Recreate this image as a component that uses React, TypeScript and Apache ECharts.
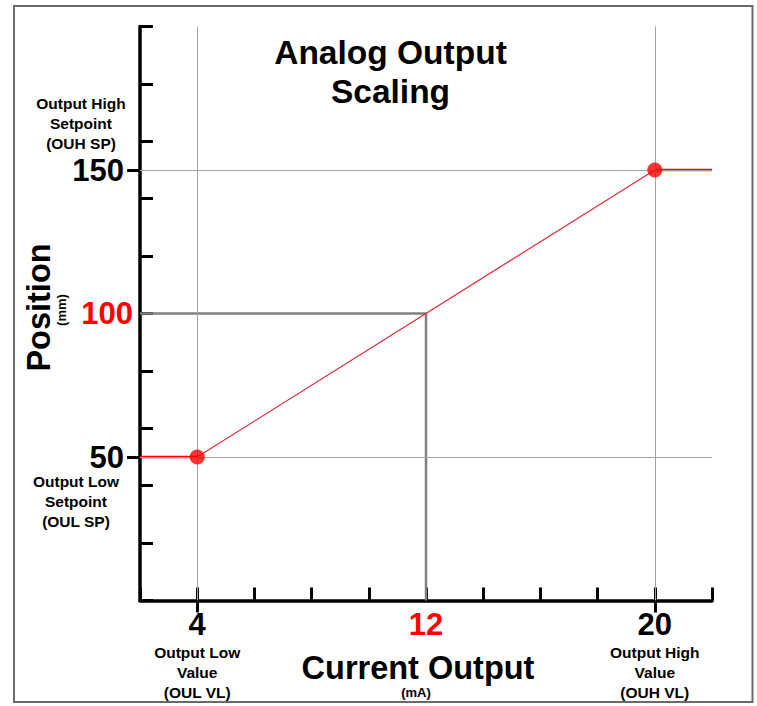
import React, { useEffect, useRef } from "react";
import * as echarts from "echarts";

// ---- data ----
const xRange = [2, 22]; // current output, mA
const yRange = [0, 200]; // position, mm
const xTickStep = 2;
const yTickStep = 20;
const xLabelValues = [4, 12, 20];
const yLabelValues = [50, 100, 150];
const setpointMA = [4, 20];
const setpointMM = [50, 150];
const sampleMA = 12;
const sampleMM = 100;
const xNotes = ["Output Low\nValue\n(OUL VL)", "Output High\nValue\n(OUH VL)"];
const yNotes = ["Output Low\nSetpoint\n(OUL SP)", "Output High\nSetpoint\n(OUH SP)"];
const titleText = "Analog Output\nScaling";
const xName = "Current Output";
const xUnit = "(mA)";
const yName = "Position";
const yUnit = "(mm)";

const FF = "'Liberation Sans', Arial, Helvetica, sans-serif";
const NOTE_SIZE = 15.5;

export default function App() {
  const ref = useRef<HTMLDivElement>(null);

  useEffect(() => {
    if (!ref.current) return;
    const chart = echarts.init(ref.current, null, { renderer: "svg" });

    const lowFlat = [
      [xRange[0], setpointMM[0]],
      [setpointMA[0], setpointMM[0]],
    ];
    const slope = [
      [setpointMA[0], setpointMM[0]],
      [setpointMA[1], setpointMM[1]],
    ];
    const highFlat = [
      [setpointMA[1], setpointMM[1]],
      [xRange[1], setpointMM[1]],
    ];
    const drop = [
      [xRange[0], sampleMM],
      [sampleMA, sampleMM],
      [sampleMA, yRange[0]],
    ];
    const dots = setpointMA.map((x, i) => [x, setpointMM[i]]);

    const bigRich = {
      blk: { color: "#000", fontSize: 31, fontWeight: "bold", fontFamily: FF },
      red: { color: "#ff0000", fontSize: 31, fontWeight: "bold", fontFamily: FF },
    };

    const baseX = {
      type: "value",
      min: xRange[0],
      max: xRange[1],
      interval: xTickStep,
      position: "bottom",
      splitLine: { show: false },
    };
    const baseY = {
      type: "value",
      min: yRange[0],
      max: yRange[1],
      interval: yTickStep,
      position: "left",
      splitLine: { show: false },
    };

    const option: any = {
      animation: false,
      grid: {
        left: 140,
        right: 45,
        top: 26.5,
        bottom: 105.5,
        containLabel: false,
        outerBoundsMode: "none",
      },
      xAxis: [
        {
          ...baseX,
          axisLine: { show: true, lineStyle: { color: "#000", width: 3.5 } },
          axisTick: { show: true, inside: true, length: 13, lineStyle: { color: "#000", width: 3 } },
          axisLabel: {
            customValues: xLabelValues,
            margin: 8,
            formatter: (v: number) => (v === sampleMA ? `{red|${v}}` : `{blk|${v}}`),
            rich: bigRich,
          },
        },
        {
          ...baseX,
          axisLine: { show: false },
          axisTick: {
            show: true,
            inside: false,
            customValues: setpointMA,
            length: 12,
            lineStyle: { color: "#000", width: 3 },
          },
          axisLabel: {
            customValues: setpointMA,
            margin: 42,
            formatter: (v: number) => xNotes[setpointMA.indexOf(v)] ?? "",
            color: "#000",
            fontSize: NOTE_SIZE,
            fontWeight: "bold",
            fontFamily: FF,
            lineHeight: 20,
          },
        },
      ],
      yAxis: [
        {
          ...baseY,
          axisLine: { show: true, lineStyle: { color: "#000", width: 3.5 } },
          axisTick: { show: true, inside: true, length: 13, lineStyle: { color: "#000", width: 3 } },
          axisLabel: {
            customValues: yLabelValues,
            margin: 7,
            formatter: (v: number) => (v === sampleMM ? `{red|${v}}` : `{blkp|${v}}`),
            rich: {
              ...bigRich,
              blkp: { ...bigRich.blk, padding: [0, 9, 0, 0] },
            },
          },
        },
        {
          ...baseY,
          axisLine: { show: false },
          axisTick: {
            show: true,
            inside: false,
            customValues: setpointMM,
            length: 13,
            lineStyle: { color: "#000", width: 3 },
          },
          axisLabel: {
            customValues: [setpointMM[1]],
            formatter: () => yNotes[1],
            align: "center",
            verticalAlign: "bottom",
            margin: 59,
            padding: [0, 0, 17, 0],
            color: "#000",
            fontSize: NOTE_SIZE,
            fontWeight: "bold",
            fontFamily: FF,
            lineHeight: 20,
          },
        },
        {
          ...baseY,
          axisLine: { show: false },
          axisTick: { show: false },
          axisLabel: {
            customValues: [setpointMM[0]],
            formatter: () => yNotes[0],
            align: "center",
            verticalAlign: "top",
            margin: 64,
            padding: [14, 0, 0, 0],
            color: "#000",
            fontSize: NOTE_SIZE,
            fontWeight: "bold",
            fontFamily: FF,
            lineHeight: 20,
          },
        },
      ],
      series: [
        {
          type: "line",
          data: drop,
          xAxisIndex: 0,
          yAxisIndex: 0,
          symbol: "none",
          z: 1,
          lineStyle: { color: "#808080", width: 2.5 },
          silent: true,
          markLine: {
            silent: true,
            symbol: ["none", "none"],
            label: { show: false },
            lineStyle: { color: "#a3a3a3", width: 1, type: "solid" },
            data: [
              ...setpointMA.map((x) => ({ xAxis: x })),
              ...setpointMM.map((y) => ({ yAxis: y })),
            ],
          },
        },
        {
          type: "line",
          data: slope,
          symbol: "none",
          z: 3,
          lineStyle: { color: "#e0283c", width: 1.2 },
          silent: true,
        },
        {
          type: "line",
          data: lowFlat,
          symbol: "none",
          z: 3,
          lineStyle: { color: "#ff0000", width: 2.5 },
          silent: true,
        },
        {
          type: "line",
          data: highFlat,
          symbol: "none",
          z: 3,
          lineStyle: { color: "#ff0000", width: 2.5 },
          silent: true,
        },
        {
          type: "scatter",
          data: dots,
          symbolSize: 15,
          z: 5,
          itemStyle: { color: "#ff0000" },
          silent: true,
        },
      ],
      graphic: [
        {
          type: "rect",
          shape: { x: 14, y: 6, width: 738.5, height: 696 },
          style: { fill: "none", stroke: "#6a6a6a", lineWidth: 2 },
          silent: true,
        },
        {
          type: "text",
          x: 390.5,
          y: 33,
          style: {
            text: titleText,
            fill: "#000",
            fontSize: 33.5,
            fontWeight: "bold",
            fontFamily: FF,
            align: "center",
            verticalAlign: "top",
            lineHeight: 39,
          },
        },
        {
          type: "text",
          x: 38.5,
          y: 307.5,
          rotation: Math.PI / 2,
          style: {
            text: yName,
            fill: "#000",
            fontSize: 32.5,
            fontWeight: "bold",
            fontFamily: FF,
            align: "center",
            verticalAlign: "middle",
          },
        },
        {
          type: "text",
          x: 61,
          y: 310,
          rotation: Math.PI / 2,
          style: {
            text: yUnit,
            fill: "#000",
            fontSize: 13,
            fontWeight: "bold",
            fontFamily: FF,
            align: "center",
            verticalAlign: "middle",
          },
        },
        {
          type: "text",
          x: 418,
          y: 668,
          style: {
            text: xName,
            fill: "#000",
            fontSize: 32.5,
            fontWeight: "bold",
            fontFamily: FF,
            align: "center",
            verticalAlign: "middle",
          },
        },
        {
          type: "text",
          x: 416,
          y: 692,
          style: {
            text: xUnit,
            fill: "#000",
            fontSize: 13,
            fontWeight: "bold",
            fontFamily: FF,
            align: "center",
            verticalAlign: "middle",
          },
        },
      ],
    };

    chart.setOption(option);
    return () => chart.dispose();
  }, []);

  return (
    <div
      ref={ref}
      style={{ position: "absolute", left: 0, top: 0, width: 757, height: 706, background: "#fff" }}
    />
  );
}
